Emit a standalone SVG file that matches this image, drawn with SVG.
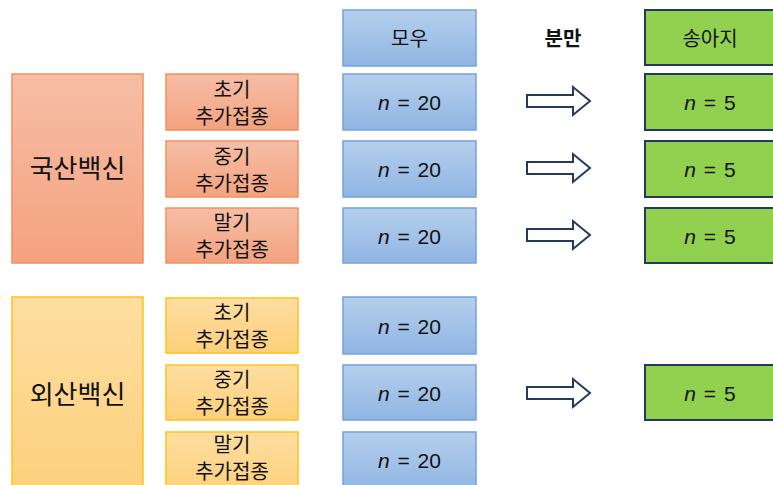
<svg xmlns="http://www.w3.org/2000/svg" width="773" height="485" viewBox="0 0 773 485">
<defs>
<linearGradient id="gOr" x1="0" y1="0" x2="0" y2="1"><stop offset="0" stop-color="#F6BEA6"/><stop offset="1" stop-color="#F4A27F"/></linearGradient>
<linearGradient id="gYe" x1="0" y1="0" x2="0" y2="1"><stop offset="0" stop-color="#FEDEA2"/><stop offset="1" stop-color="#FDD07A"/></linearGradient>
<linearGradient id="gBl" x1="0" y1="0" x2="0" y2="1"><stop offset="0" stop-color="#B5CFEC"/><stop offset="1" stop-color="#8FB5E3"/></linearGradient>
<path id="arr" d="M0,-6 H46 V-14 L63,0 L46,14 V6 H0 Z"/>
</defs>
<style>
text{font-family:"Noto Sans CJK KR","Noto Sans",sans-serif;fill:#111;text-anchor:middle;dominant-baseline:central}
.or{fill:url(#gOr);stroke:#F2905F;stroke-width:1.5}
.ye{fill:url(#gYe);stroke:#FFC21A;stroke-width:1.5}
.bl{fill:url(#gBl);stroke:#72A3DC;stroke-width:1.5}
.gr{fill:#92D050;stroke:#223A5E;stroke-width:2}
.ar{fill:#fff;stroke:#223A5E;stroke-width:2}
.big{font-size:26px}
.t{font-size:20px}
.b{font-size:20px;font-weight:bold}
.n{font-size:21px;font-family:"Liberation Sans","Noto Sans",sans-serif;word-spacing:2px}
.i{font-style:italic}
</style>
<rect width="773" height="485" fill="#fff"/>
<g id="header">
<g id="h-mowu"><rect class="bl" x="343" y="10" width="133" height="56"/><text class="t" x="409.5" y="37">모우</text></g>
<g id="h-bunman"><text class="b" x="563" y="37">분만</text></g>
<g id="h-songaji"><rect class="gr" x="645" y="10" width="140" height="55"/><text class="t" x="710" y="37">송아지</text></g>
</g>
<g id="domestic">
<g id="dom"><rect class="or" x="12" y="74" width="131" height="189"/><text class="big" x="77.5" y="166">국산백신</text></g>
<g id="dom-early"><rect class="or" x="166" y="74" width="132" height="56"/><text class="t" x="232" y="88">초기</text><text class="t" x="232" y="115">추가접종</text></g>
<g id="dom-mid"><rect class="or" x="166" y="141" width="132" height="56"/><text class="t" x="232" y="155">중기</text><text class="t" x="232" y="182">추가접종</text></g>
<g id="dom-late"><rect class="or" x="166" y="208" width="132" height="55"/><text class="t" x="232" y="221">말기</text><text class="t" x="232" y="248">추가접종</text></g>
</g>
<g id="foreign">
<g id="for"><rect class="ye" x="12" y="297" width="131" height="200"/><text class="big" x="77.5" y="392">외산백신</text></g>
<g id="for-early"><rect class="ye" x="166" y="298" width="132" height="55"/><text class="t" x="232" y="311">초기</text><text class="t" x="232" y="338">추가접종</text></g>
<g id="for-mid"><rect class="ye" x="166" y="365" width="132" height="55"/><text class="t" x="232" y="378">중기</text><text class="t" x="232" y="405">추가접종</text></g>
<g id="for-late"><rect class="ye" x="166" y="432" width="132" height="60"/><text class="t" x="232" y="443">말기</text><text class="t" x="232" y="470">추가접종</text></g>
</g>
<g id="cows">
<g id="c1"><rect class="bl" x="343" y="74" width="133" height="56"/><text class="n" x="409.5" y="102"><tspan class="i">n</tspan> = 20</text></g>
<g id="c2"><rect class="bl" x="343" y="141" width="133" height="56"/><text class="n" x="409.5" y="169"><tspan class="i">n</tspan> = 20</text></g>
<g id="c3"><rect class="bl" x="343" y="208" width="133" height="55"/><text class="n" x="409.5" y="236"><tspan class="i">n</tspan> = 20</text></g>
<g id="c4"><rect class="bl" x="343" y="297" width="133" height="57"/><text class="n" x="409.5" y="326"><tspan class="i">n</tspan> = 20</text></g>
<g id="c5"><rect class="bl" x="343" y="365" width="133" height="55"/><text class="n" x="409.5" y="393"><tspan class="i">n</tspan> = 20</text></g>
<g id="c6"><rect class="bl" x="343" y="432" width="133" height="60"/><text class="n" x="409.5" y="460"><tspan class="i">n</tspan> = 20</text></g>
</g>
<g id="calves">
<g id="k1"><rect class="gr" x="645" y="74" width="140" height="56"/><text class="n" x="710" y="102"><tspan class="i">n</tspan> = 5</text></g>
<g id="k2"><rect class="gr" x="645" y="141" width="140" height="56"/><text class="n" x="710" y="169"><tspan class="i">n</tspan> = 5</text></g>
<g id="k3"><rect class="gr" x="645" y="208" width="140" height="55"/><text class="n" x="710" y="236"><tspan class="i">n</tspan> = 5</text></g>
<g id="k5"><rect class="gr" x="645" y="365" width="140" height="55"/><text class="n" x="710" y="393"><tspan class="i">n</tspan> = 5</text></g>
</g>
<g id="connectors">
<use href="#arr" class="ar" x="527" y="101"/>
<use href="#arr" class="ar" x="527" y="168"/>
<use href="#arr" class="ar" x="527" y="235"/>
<use href="#arr" class="ar" x="527" y="393"/>
</g>
</svg>
